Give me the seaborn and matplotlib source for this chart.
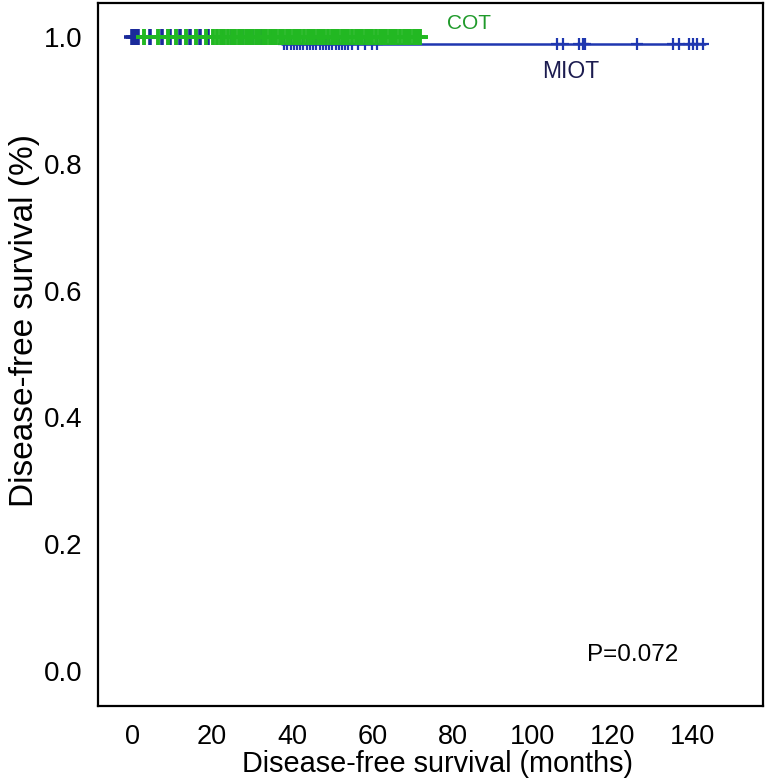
import numpy as np
import pandas as pd
import matplotlib
matplotlib.use("Agg")
import matplotlib.pyplot as plt
import seaborn as sns

# --- data (months, survival fraction) ---
miot_times = [0, 37.4, 143.0]
miot_surv = [1.0, 0.989, 0.989]
cot_times = [0, 73.5]
cot_surv = [1.0, 1.0]

# censor marks, MIOT before the event (survival 1.0)
miot_cens_early = [0.0, 0.5, 1.0, 1.5, 4.5, 7.5, 9.5, 12.0, 14.5, 17.0, 19.0,
                   22.5, 25.0, 27.5, 30.0, 32.5, 35.0]
# censor marks, MIOT after the event (survival 0.989)
miot_cens_late = [38.0, 38.8, 39.6, 40.4, 41.2, 42.0, 42.8, 43.6, 44.4, 45.2,
                  46.0, 46.8, 47.6, 48.4, 49.2, 50.0, 50.8, 51.6, 52.4, 53.2,
                  54.0, 55.0, 56.4, 58.2, 59.9, 61.1, 106.0, 107.5, 111.5,
                  112.5, 113.0, 126.0, 135.0, 136.5, 139.0, 140.0, 141.0, 142.5]
# censor marks, COT (survival 1.0)
cot_cens = [3.0, 6.5, 9.0, 11.0, 13.5, 16.0, 18.5, 20.3, 21.3, 22.3, 23.0,
            24.0, 25.0, 25.8, 26.6, 27.5, 28.4, 29.2, 30.0, 31.0, 31.8, 32.6,
            33.5, 34.4, 35.2, 36.0, 37.0, 37.8, 38.6, 39.5, 40.4, 41.2, 42.0,
            43.0, 43.8, 44.6, 45.5, 46.4, 47.2, 48.0, 49.0, 49.8, 50.6, 51.5,
            52.4, 53.2, 54.0, 55.0, 55.8, 56.6, 57.5, 58.4, 59.2, 60.0, 61.0,
            61.8, 62.6, 63.5, 64.4, 65.2, 66.0, 67.0, 67.8, 68.6, 69.5, 70.4,
            71.2, 72.0]

x_ticks = [0, 20, 40, 60, 80, 100, 120, 140]
y_ticks = [0.0, 0.2, 0.4, 0.6, 0.8, 1.0]

blue = "#1f37b0"
green = "#22b822"

sns.set_style("white")
plt.rcParams["font.family"] = ["Liberation Sans", "DejaVu Sans"]

fig = plt.figure(figsize=(7.71, 7.84), dpi=100)
ax = fig.add_axes([0.1271, 0.0995, 0.8625, 0.8967])

# survival step curves
miot_df = pd.DataFrame({"t": miot_times, "s": miot_surv})
cot_df = pd.DataFrame({"t": cot_times, "s": cot_surv})
sns.lineplot(data=miot_df, x="t", y="s", ax=ax, color=blue, lw=1.8,
             drawstyle="steps-post", estimator=None)
sns.lineplot(data=cot_df, x="t", y="s", ax=ax, color=green, lw=2.2,
             drawstyle="steps-post", estimator=None)

# censor marks
ax.plot(miot_cens_late, [0.989] * len(miot_cens_late), ls="none", marker="+",
        ms=9, mew=1.6, color=blue, zorder=3)
ax.plot(miot_cens_early, [1.0] * len(miot_cens_early), ls="none", marker="+",
        ms=11, mew=2.6, color="#1a2a9a", zorder=3)
ax.plot(cot_cens, [1.0] * len(cot_cens), ls="none", marker="+",
        ms=11, mew=2.8, color=green, zorder=4)

ax.text(84, 1.021, "COT", color="#1f9a2a", fontsize=15, ha="center", va="center")
ax.text(109.5, 0.945, "MIOT", color="#1c1c50", fontsize=16.5, ha="center", va="center")
ax.text(125, 0.025, "P=0.072", color="black", fontsize=17.5, ha="center", va="center")

ax.set_xlim(-8.5, 157.5)
ax.set_ylim(-0.0552, 1.0536)
ax.set_xticks(x_ticks)
ax.set_yticks(y_ticks)
ax.set_yticklabels([f"{v:.1f}" for v in y_ticks])
ax.tick_params(axis="both", direction="out", length=8, width=1.6,
               color="black", labelcolor="black")
ax.tick_params(axis="x", pad=5, labelsize=19.5)
ax.tick_params(axis="y", pad=3, labelsize=20)
ax.set_xlabel("Disease-free survival (months)", fontsize=20.8, color="black")
ax.set_ylabel("Disease-free survival (%)", fontsize=24, color="black")
ax.xaxis.set_label_coords(0.51, -0.062)
ax.yaxis.set_label_coords(-0.087, 0.549)
for sp in ax.spines.values():
    sp.set_visible(True)
    sp.set_color("black")
    sp.set_linewidth(1.6)

fig.savefig("out.png", dpi=100, facecolor="white")
